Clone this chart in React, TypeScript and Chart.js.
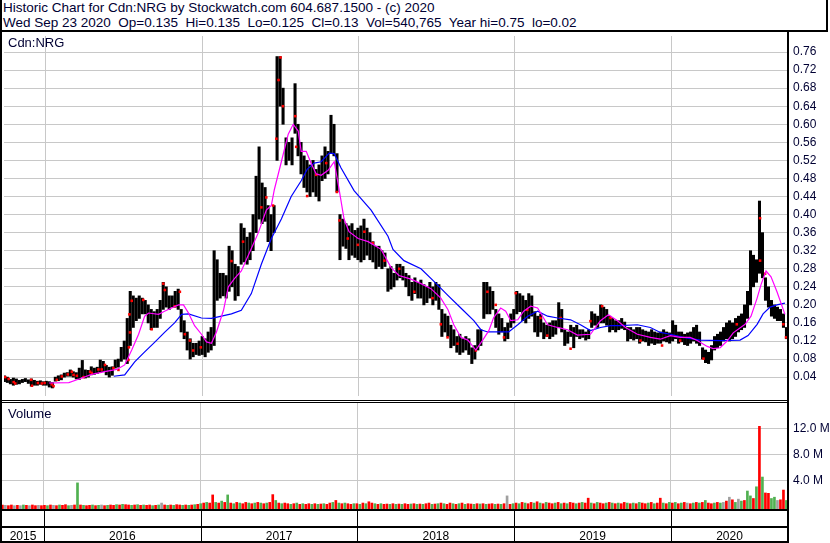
import React, { useEffect, useRef } from 'react';
import { Chart, registerables } from 'chart.js';

Chart.register(...registerables);

// ---------- data ----------
const symbol = 'Cdn:NRG';
const headerLine1 = 'Historic Chart for Cdn:NRG by Stockwatch.com 604.687.1500 - (c) 2020';
const headerLine2 = 'Wed Sep 23 2020  Op=0.135  Hi=0.135  Lo=0.125  Cl=0.13  Vol=540,765  Year hi=0.75  lo=0.02';

// weekly bars: first bar centred late Sep 2015, one bar per week
const firstWeek = 2015.7346;
const weekYears = 7 / 365.25;
const xMin = 2015.7321;
const xMax = 2020.7465;

const yearStarts = [2016, 2017, 2018, 2019, 2020];
const yearLabels = ['2015', '2016', '2017', '2018', '2019', '2020'];
const priceTicks = [0.04, 0.08, 0.12, 0.16, 0.2, 0.24, 0.28, 0.32, 0.36, 0.4, 0.44, 0.48, 0.52, 0.56, 0.6, 0.64, 0.68, 0.72, 0.76];
const volumeTicks = [4, 8, 12];

// weekly [low, high]
const range2015 = [[0.03,0.043],[0.028,0.04],[0.025,0.035],[0.022,0.038],[0.024,0.036],[0.025,0.033],[0.028,0.035],[0.03,0.037],[0.026,0.034],[0.02,0.036],[0.022,0.033],[0.022,0.031],[0.024,0.032],[0.022,0.03]];
const range2016 = [[0.022,0.031],[0.018,0.03],[0.016,0.028],[0.031,0.04],[0.032,0.043],[0.034,0.045],[0.04,0.049],[0.042,0.05],[0.042,0.056],[0.04,0.052],[0.036,0.05],[0.035,0.06],[0.04,0.077],[0.038,0.056],[0.04,0.055],[0.045,0.063],[0.046,0.06],[0.048,0.062],[0.05,0.078],[0.052,0.075],[0.045,0.066],[0.04,0.062],[0.044,0.063],[0.06,0.078],[0.062,0.08],[0.075,0.106],[0.08,0.12],[0.07,0.17],[0.11,0.23],[0.15,0.22],[0.165,0.215],[0.17,0.22],[0.18,0.215],[0.18,0.21],[0.16,0.2],[0.145,0.19],[0.15,0.185],[0.15,0.19],[0.17,0.21],[0.19,0.25],[0.195,0.24],[0.19,0.22],[0.195,0.22],[0.195,0.23],[0.19,0.235],[0.14,0.19],[0.125,0.165],[0.1,0.14],[0.08,0.125],[0.085,0.115],[0.09,0.115],[0.088,0.12]];
const range2017 = [[0.09,0.13],[0.085,0.125],[0.095,0.14],[0.1,0.15],[0.11,0.32],[0.21,0.3],[0.215,0.27],[0.22,0.27],[0.215,0.265],[0.23,0.33],[0.24,0.32],[0.21,0.29],[0.22,0.285],[0.29,0.38],[0.295,0.37],[0.29,0.35],[0.3,0.36],[0.32,0.4],[0.36,0.485],[0.39,0.55],[0.38,0.47],[0.385,0.46],[0.34,0.42],[0.32,0.4],[0.36,0.42],[0.52,0.75],[0.64,0.75],[0.6,0.68],[0.51,0.57],[0.52,0.56],[0.51,0.57],[0.58,0.69],[0.53,0.6],[0.49,0.56],[0.46,0.53],[0.45,0.52],[0.44,0.51],[0.45,0.52],[0.44,0.5],[0.43,0.51],[0.475,0.53],[0.48,0.55],[0.49,0.54],[0.535,0.62],[0.53,0.6],[0.45,0.535],[0.3,0.4],[0.33,0.39],[0.325,0.38],[0.3,0.375],[0.31,0.38],[0.305,0.365],[0.3,0.37]];
const range2018 = [[0.295,0.375],[0.3,0.39],[0.31,0.37],[0.3,0.36],[0.295,0.34],[0.28,0.33],[0.285,0.33],[0.28,0.32],[0.285,0.315],[0.23,0.28],[0.235,0.285],[0.24,0.27],[0.255,0.29],[0.26,0.29],[0.255,0.285],[0.24,0.27],[0.22,0.265],[0.21,0.25],[0.225,0.26],[0.215,0.25],[0.215,0.255],[0.2,0.245],[0.205,0.24],[0.215,0.25],[0.2,0.24],[0.21,0.25],[0.19,0.245],[0.13,0.19],[0.14,0.18],[0.13,0.175],[0.105,0.155],[0.11,0.145],[0.095,0.13],[0.09,0.135],[0.095,0.125],[0.1,0.13],[0.09,0.125],[0.07,0.105],[0.08,0.11],[0.1,0.145],[0.11,0.145],[0.17,0.25],[0.18,0.25],[0.18,0.24],[0.19,0.23],[0.15,0.19],[0.135,0.18],[0.14,0.17],[0.12,0.15],[0.125,0.16],[0.15,0.18],[0.16,0.19]];
const range2019 = [[0.18,0.23],[0.185,0.225],[0.165,0.22],[0.16,0.21],[0.17,0.225],[0.175,0.22],[0.14,0.185],[0.13,0.175],[0.14,0.18],[0.125,0.16],[0.13,0.155],[0.125,0.16],[0.13,0.165],[0.135,0.165],[0.15,0.205],[0.14,0.19],[0.11,0.145],[0.115,0.14],[0.13,0.155],[0.105,0.15],[0.13,0.155],[0.125,0.145],[0.128,0.145],[0.122,0.14],[0.125,0.145],[0.15,0.185],[0.155,0.18],[0.15,0.175],[0.16,0.2],[0.16,0.195],[0.155,0.19],[0.14,0.175],[0.145,0.17],[0.14,0.165],[0.145,0.165],[0.148,0.17],[0.145,0.162],[0.12,0.15],[0.125,0.15],[0.122,0.145],[0.125,0.15],[0.115,0.15],[0.12,0.145],[0.118,0.142],[0.11,0.14],[0.115,0.145],[0.112,0.14],[0.115,0.138],[0.115,0.14],[0.12,0.145],[0.118,0.14],[0.115,0.138]];
const range2020 = [[0.12,0.165],[0.125,0.155],[0.115,0.14],[0.118,0.14],[0.112,0.135],[0.11,0.138],[0.115,0.14],[0.12,0.15],[0.115,0.155],[0.11,0.14],[0.08,0.105],[0.072,0.1],[0.07,0.095],[0.078,0.11],[0.1,0.13],[0.105,0.135],[0.11,0.14],[0.12,0.15],[0.125,0.16],[0.12,0.165],[0.125,0.16],[0.13,0.17],[0.14,0.175],[0.145,0.18],[0.15,0.2],[0.17,0.23],[0.2,0.32],[0.24,0.31],[0.25,0.3],[0.27,0.43],[0.26,0.36],[0.21,0.26],[0.195,0.24],[0.175,0.21],[0.17,0.2],[0.165,0.195],[0.165,0.19],[0.15,0.18],[0.125,0.15]];

// short moving average (magenta) [year, price]
const maShort = [[2016.019,0.027],[2016.147,0.028],[2016.23,0.038],[2016.293,0.046],[2016.376,0.052],[2016.453,0.057],[2016.504,0.067],[2016.549,0.1],[2016.593,0.135],[2016.632,0.175],[2016.657,0.182],[2016.721,0.179],[2016.759,0.186],[2016.804,0.193],[2016.848,0.2],[2016.88,0.2],[2016.912,0.182],[2016.951,0.154],[2016.995,0.135],[2017.027,0.118],[2017.059,0.115],[2017.091,0.14],[2017.136,0.188],[2017.167,0.24],[2017.206,0.258],[2017.25,0.275],[2017.314,0.325],[2017.359,0.36],[2017.41,0.41],[2017.442,0.42],[2017.461,0.455],[2017.506,0.517],[2017.55,0.578],[2017.582,0.6],[2017.614,0.585],[2017.633,0.54],[2017.665,0.54],[2017.697,0.513],[2017.729,0.49],[2017.761,0.487],[2017.805,0.498],[2017.844,0.517],[2017.876,0.455],[2017.907,0.39],[2017.939,0.362],[2017.997,0.347],[2018.061,0.34],[2018.144,0.323],[2018.207,0.283],[2018.258,0.265],[2018.335,0.257],[2018.399,0.247],[2018.463,0.236],[2018.526,0.215],[2018.571,0.19],[2018.609,0.156],[2018.654,0.128],[2018.699,0.122],[2018.75,0.1],[2018.794,0.122],[2018.833,0.143],[2018.864,0.172],[2018.909,0.193],[2018.941,0.186],[2018.973,0.165],[2019.018,0.167],[2019.056,0.186],[2019.101,0.197],[2019.145,0.193],[2019.209,0.156],[2019.273,0.15],[2019.337,0.145],[2019.4,0.133],[2019.483,0.135],[2019.547,0.165],[2019.598,0.178],[2019.656,0.165],[2019.707,0.15],[2019.783,0.135],[2019.866,0.128],[2019.93,0.124],[2019.994,0.132],[2020.057,0.128],[2020.121,0.128],[2020.166,0.121],[2020.23,0.108],[2020.268,0.103],[2020.313,0.105],[2020.357,0.12],[2020.396,0.138],[2020.472,0.157],[2020.51,0.175],[2020.549,0.215],[2020.574,0.245],[2020.606,0.275],[2020.638,0.262],[2020.676,0.229],[2020.727,0.179]];

// long moving average (blue) [year, price]
const maLong = [[2016.434,0.042],[2016.504,0.045],[2016.568,0.074],[2016.632,0.096],[2016.695,0.117],[2016.759,0.139],[2016.823,0.16],[2016.868,0.179],[2016.912,0.18],[2016.995,0.171],[2017.059,0.17],[2017.123,0.175],[2017.187,0.18],[2017.25,0.188],[2017.314,0.225],[2017.378,0.29],[2017.442,0.347],[2017.506,0.39],[2017.569,0.44],[2017.633,0.475],[2017.671,0.5],[2017.716,0.514],[2017.761,0.517],[2017.812,0.536],[2017.844,0.535],[2017.888,0.503],[2017.971,0.453],[2018.08,0.41],[2018.188,0.352],[2018.22,0.323],[2018.29,0.298],[2018.399,0.28],[2018.482,0.252],[2018.571,0.221],[2018.654,0.193],[2018.737,0.165],[2018.782,0.145],[2018.826,0.14],[2018.96,0.14],[2019.018,0.156],[2019.082,0.175],[2019.145,0.186],[2019.209,0.175],[2019.273,0.171],[2019.356,0.167],[2019.419,0.156],[2019.483,0.143],[2019.547,0.15],[2019.611,0.154],[2019.675,0.154],[2019.783,0.156],[2019.866,0.15],[2019.93,0.139],[2019.994,0.135],[2020.077,0.128],[2020.185,0.122],[2020.313,0.121],[2020.44,0.122],[2020.491,0.132],[2020.549,0.157],[2020.587,0.18],[2020.632,0.195],[2020.676,0.2],[2020.727,0.204]];

// red close ticks [year, price]
const closeTicks = [[2015.74,0.04],[2015.762,0.036],[2015.794,0.029],[2015.804,0.026],[2015.906,0.034],[2015.911,0.021],[2015.949,0.027],[2015.974,0.026],[2015.992,0.027],[2016.038,0.024],[2016.049,0.02],[2016.07,0.034],[2016.102,0.0415],[2016.14,0.046],[2016.166,0.052],[2016.177,0.045],[2016.198,0.043],[2016.241,0.04],[2016.283,0.052],[2016.293,0.049],[2016.336,0.057],[2016.357,0.057],[2016.378,0.067],[2016.432,0.06],[2016.464,0.056],[2016.528,0.078],[2016.531,0.106],[2016.538,0.139],[2016.534,0.179],[2016.549,0.209],[2016.623,0.211],[2016.676,0.146],[2016.751,0.247],[2016.761,0.233],[2016.825,0.197],[2016.857,0.229],[2016.889,0.135],[2016.921,0.121],[2016.942,0.099],[2016.991,0.106],[2017.187,0.297],[2017.261,0.34],[2017.378,0.416],[2017.41,0.438],[2017.453,0.42],[2017.474,0.568],[2017.488,0.698],[2017.501,0.748],[2017.516,0.64],[2017.595,0.618],[2017.601,0.55],[2017.671,0.441],[2017.729,0.488],[2017.793,0.514],[2017.861,0.45],[2017.878,0.387],[2017.931,0.347],[2017.995,0.333],[2018.037,0.362],[2018.091,0.337],[2018.165,0.298],[2018.26,0.28],[2018.356,0.229],[2018.473,0.215],[2018.526,0.157],[2018.569,0.128],[2018.633,0.114],[2018.75,0.099],[2018.824,0.229],[2018.877,0.2],[2018.93,0.128],[2019.005,0.226],[2019.079,0.189],[2019.164,0.171],[2019.207,0.132],[2019.292,0.171],[2019.356,0.103],[2019.483,0.164],[2019.558,0.197],[2019.611,0.171],[2019.803,0.121],[2019.941,0.11],[2020.057,0.121],[2020.206,0.081],[2020.419,0.157],[2020.568,0.392],[2020.568,0.298],[2020.6,0.269],[2020.717,0.157],[2020.734,0.128]];

// weekly volume [millions, colour] (r = down, g = up, n = unchanged)
const vol2015 = [[0.2,'r'],[0.15,'n'],[0.1,'r'],[0.2,'r'],[0.1,'n'],[0.15,'r'],[0.1,'n'],[0.2,'g'],[0.15,'r'],[0.1,'n'],[0.2,'r'],[0.1,'r'],[0.15,'n'],[0.1,'r']];
const vol2016 = [[0.15,'r'],[0.1,'g'],[0.2,'r'],[0.15,'n'],[0.1,'r'],[0.2,'g'],[0.15,'r'],[0.25,'r'],[0.1,'g'],[0.15,'n'],[0.2,'r'],[3.6,'g'],[0.2,'r'],[0.15,'g'],[0.1,'r'],[0.15,'r'],[0.2,'g'],[0.1,'r'],[0.15,'g'],[0.2,'n'],[0.1,'r'],[0.15,'g'],[0.2,'r'],[0.15,'r'],[0.25,'g'],[0.2,'r'],[0.3,'g'],[0.25,'r'],[0.2,'r'],[0.15,'g'],[0.2,'r'],[0.25,'g'],[0.15,'r'],[0.2,'g'],[0.15,'r'],[0.2,'r'],[0.1,'g'],[0.15,'r'],[0.2,'g'],[0.5,'n'],[0.2,'r'],[0.15,'g'],[0.2,'r'],[0.15,'g'],[0.25,'r'],[0.2,'r'],[0.15,'g'],[0.2,'r'],[0.15,'g'],[0.2,'r'],[0.25,'g'],[0.3,'r']];
const vol2017 = [[0.4,'g'],[0.5,'r'],[0.6,'g'],[0.5,'r'],[1.75,'r'],[0.6,'g'],[0.5,'r'],[0.8,'g'],[0.6,'r'],[1.75,'g'],[0.5,'r'],[0.4,'g'],[0.6,'r'],[0.5,'g'],[0.4,'r'],[0.6,'r'],[0.5,'g'],[0.4,'r'],[0.5,'g'],[0.6,'r'],[0.5,'g'],[0.4,'r'],[0.5,'g'],[0.6,'r'],[1.8,'r'],[0.9,'g'],[0.5,'r'],[0.4,'g'],[0.5,'r'],[0.4,'r'],[0.3,'g'],[0.4,'r'],[0.5,'g'],[0.3,'r'],[0.4,'g'],[0.3,'r'],[0.4,'r'],[0.3,'g'],[0.4,'r'],[0.3,'g'],[0.35,'r'],[0.4,'g'],[0.3,'r'],[0.5,'r'],[0.6,'g'],[0.9,'r'],[0.5,'g'],[0.4,'r'],[0.5,'g'],[0.4,'r'],[0.3,'r'],[0.4,'g'],[0.4,'r']];
const vol2018 = [[0.3,'g'],[0.5,'r'],[0.4,'g'],[0.7,'r'],[0.5,'r'],[0.4,'g'],[0.3,'r'],[0.4,'g'],[0.3,'r'],[0.35,'r'],[0.3,'g'],[0.4,'r'],[0.3,'g'],[0.35,'r'],[0.3,'g'],[0.4,'r'],[0.3,'r'],[0.35,'g'],[0.4,'r'],[0.3,'g'],[0.35,'r'],[0.3,'g'],[0.4,'r'],[0.5,'r'],[0.3,'g'],[0.35,'r'],[0.4,'g'],[0.5,'r'],[0.4,'g'],[0.3,'r'],[0.5,'r'],[0.4,'g'],[0.3,'r'],[0.4,'g'],[0.5,'r'],[0.3,'g'],[0.4,'r'],[0.35,'r'],[0.3,'g'],[0.4,'r'],[0.35,'g'],[0.4,'r'],[0.3,'g'],[0.35,'r'],[0.4,'r'],[0.3,'g'],[0.35,'r'],[0.3,'g'],[0.4,'r'],[1.6,'n'],[0.3,'r'],[0.4,'g']];
const vol2019 = [[0.5,'r'],[0.4,'g'],[0.6,'r'],[0.5,'g'],[0.4,'r'],[0.6,'r'],[0.5,'g'],[0.7,'r'],[0.5,'g'],[0.4,'r'],[0.6,'g'],[0.5,'r'],[0.4,'r'],[0.5,'g'],[0.6,'r'],[0.4,'g'],[0.5,'r'],[0.4,'g'],[0.6,'r'],[0.5,'r'],[0.4,'g'],[0.5,'r'],[0.6,'g'],[0.5,'r'],[1.25,'r'],[0.5,'g'],[0.4,'r'],[0.6,'g'],[0.5,'r'],[0.4,'r'],[0.5,'g'],[0.6,'r'],[0.5,'g'],[0.4,'r'],[0.5,'g'],[0.4,'r'],[0.6,'r'],[0.5,'g'],[0.4,'r'],[0.5,'g'],[0.4,'r'],[0.6,'g'],[0.5,'r'],[0.4,'r'],[0.5,'g'],[0.6,'r'],[0.4,'g'],[0.5,'r'],[1.25,'r'],[0.5,'g'],[0.4,'r'],[0.6,'g']];
const vol2020 = [[0.5,'r'],[0.6,'g'],[0.4,'r'],[0.5,'g'],[0.6,'r'],[0.5,'n'],[0.4,'r'],[0.5,'g'],[0.6,'r'],[0.5,'g'],[0.6,'r'],[0.9,'g'],[0.5,'r'],[0.4,'r'],[0.5,'g'],[0.6,'r'],[0.5,'g'],[0.6,'n'],[0.8,'r'],[1.4,'n'],[1.0,'r'],[0.6,'g'],[1.1,'n'],[0.8,'g'],[0.9,'r'],[2.35,'g'],[1.6,'g'],[1.2,'r'],[3.0,'g'],[12.3,'r'],[4.5,'g'],[2.05,'r'],[2.0,'r'],[1.2,'g'],[1.4,'g'],[0.9,'n'],[1.0,'r'],[2.5,'r'],[0.9,'g']];

// ---------- style ----------
const FONT = '"Liberation Sans", Arial, sans-serif';
const TEXT = '#000033';
const GRID = '#c8c8c8';
const RED = '#ff0000';
const GREEN = '#50b050';
const GREY = '#a0a0a0';

const priceMin = -0.0018;
const priceMax = 0.7955;
const volMin = -0.415;
const volMax = 15.89;

export default function App() {
  const priceRef = useRef<HTMLCanvasElement>(null);
  const volRef = useRef<HTMLCanvasElement>(null);

  useEffect(() => {
    const ranges = [...range2015, ...range2016, ...range2017, ...range2018, ...range2019, ...range2020];
    const bars = ranges.map((r, i) => ({ x: firstWeek + i * weekYears, y: r }));
    const vols: any[] = [...vol2015, ...vol2016, ...vol2017, ...vol2018, ...vol2019, ...vol2020];
    const volBars = vols.map((v, i) => ({ x: firstWeek + i * weekYears, y: v[0] }));
    const volColors = vols.map((v) => (v[1] === 'g' ? GREEN : v[1] === 'n' ? GREY : RED));
    const bounds = [xMin, ...yearStarts, xMax];
    const labelCentres = yearLabels.map((_, i) => (bounds[i] + bounds[i + 1]) / 2);

    const yearGridTicks = (s: any) => { s.ticks = yearStarts.map((v) => ({ value: v })); };

    const price = new Chart(priceRef.current!, {
      type: 'bar',
      data: {
        datasets: [
          { type: 'line', data: maShort.map(([x, y]) => ({ x, y })), borderColor: '#ff00ff', borderWidth: 1.2, pointRadius: 0, tension: 0, order: 0 } as any,
          { type: 'line', data: maLong.map(([x, y]) => ({ x, y })), borderColor: '#0000ff', borderWidth: 1.2, pointRadius: 0, tension: 0, order: 1 } as any,
          { type: 'line', data: closeTicks.map(([x, y]) => ({ x, y })), showLine: false, pointStyle: 'rect', pointRadius: 1.8, backgroundColor: RED, borderWidth: 0, order: 2 } as any,
          { type: 'bar', data: bars, backgroundColor: '#000000', barThickness: 2.4, order: 3 } as any,
        ],
      },
      options: {
        animation: false,
        responsive: false,
        maintainAspectRatio: false,
        events: [],
        layout: { padding: { left: 2, right: 0, top: 0, bottom: 0 } },
        plugins: { legend: { display: false }, tooltip: { enabled: false } },
        scales: {
          x: {
            type: 'linear', min: xMin, max: xMax, offset: false,
            grid: { color: GRID, drawTicks: false, offset: false },
            border: { display: false },
            ticks: { display: false },
            afterBuildTicks: yearGridTicks,
            afterFit: (s: any) => { s.height = 0; s.paddingLeft = 0; s.paddingRight = 0; },
          },
          y: {
            position: 'right', min: priceMin, max: priceMax,
            grid: { color: GRID, drawTicks: false },
            border: { display: false },
            ticks: { color: TEXT, font: { family: FONT, size: 12 }, padding: 5, callback: (v: any) => Number(v).toFixed(2) },
            afterBuildTicks: (s: any) => { s.ticks = priceTicks.map((v) => ({ value: v })); },
            afterFit: (s: any) => { s.width = 42; s.paddingTop = 0; s.paddingBottom = 0; },
          },
        },
      } as any,
    });

    const stripPlugin = {
      id: 'yearStrip',
      afterDraw(chart: any) {
        const ctx = chart.ctx;
        const sx = chart.scales.xg;
        ctx.save();
        ctx.strokeStyle = '#000000';
        ctx.lineWidth = 1;
        yearStarts.forEach((v) => {
          const px = Math.round(sx.getPixelForValue(v)) + 0.5;
          ctx.beginPath();
          ctx.moveTo(px, chart.chartArea.bottom);
          ctx.lineTo(px, chart.height);
          ctx.stroke();
        });
        ctx.restore();
      },
    };

    const volume = new Chart(volRef.current!, {
      type: 'bar',
      data: {
        datasets: [
          { data: volBars, backgroundColor: volColors, barThickness: 2, base: volMin, xAxisID: 'x', yAxisID: 'y' } as any,
        ],
      },
      options: {
        animation: false,
        responsive: false,
        maintainAspectRatio: false,
        events: [],
        layout: { padding: { left: 2, right: 0, top: 1, bottom: 0 } },
        plugins: { legend: { display: false }, tooltip: { enabled: false } },
        scales: {
          xg: {
            type: 'linear', position: 'bottom', min: xMin, max: xMax, offset: false,
            grid: { color: GRID, drawTicks: false, offset: false },
            border: { display: false },
            ticks: { display: false },
            afterBuildTicks: yearGridTicks,
            afterFit: (s: any) => { s.height = 0; s.paddingLeft = 0; s.paddingRight = 0; },
          },
          x: {
            type: 'linear', position: 'bottom', min: xMin, max: xMax, offset: false,
            grid: { display: false, drawTicks: false },
            border: { display: false },
            ticks: {
              color: '#000000', font: { family: FONT, size: 12 }, padding: 20, autoSkip: false, maxRotation: 0,
              callback: (_v: any, i: number) => yearLabels[i],
            },
            afterBuildTicks: (s: any) => { s.ticks = labelCentres.map((v) => ({ value: v })); },
            afterFit: (s: any) => { s.height = 34; s.paddingLeft = 0; s.paddingRight = 0; },
          },
          y: {
            position: 'right', min: volMin, max: volMax,
            grid: { color: GRID, drawTicks: false },
            border: { display: false },
            ticks: { color: TEXT, font: { family: FONT, size: 12 }, padding: 5, callback: (v: any) => Number(v).toFixed(1) + ' M' },
            afterBuildTicks: (s: any) => { s.ticks = volumeTicks.map((v) => ({ value: v })); },
            afterFit: (s: any) => { s.width = 42; s.paddingTop = 0; s.paddingBottom = 0; },
          },
        },
      } as any,
      plugins: [stripPlugin],
    });

    return () => { price.destroy(); volume.destroy(); };
  }, []);

  const abs = (left: number, top: number, width: number, height: number, bg = '#000'): React.CSSProperties => ({
    position: 'absolute', left, top, width, height, background: bg,
  });
  const txt: React.CSSProperties = { position: 'absolute', fontFamily: FONT, fontSize: 13, lineHeight: '15px', color: TEXT, whiteSpace: 'pre' };
  const head: React.CSSProperties = { ...txt, fontSize: 13.5 };

  return (
    <div style={{ position: 'fixed', left: 0, top: 0, width: 830, height: 543, background: '#ffffff', overflow: 'hidden' }}>
      <div style={{ ...head, left: 3, top: 0 }}>{headerLine1}</div>
      <div style={{ ...head, left: 3, top: 15 }}>{headerLine2}</div>
      <canvas ref={priceRef} width={830} height={368} style={{ position: 'absolute', left: 0, top: 32, width: 830, height: 368 }} />
      <canvas ref={volRef} width={830} height={141} style={{ position: 'absolute', left: 0, top: 402, width: 830, height: 141 }} />
      <div style={{ ...txt, left: 8, top: 35 }}>{symbol}</div>
      <div style={{ ...txt, left: 8, top: 406 }}>Volume</div>
      <div style={abs(0, 30, 828, 2)} />
      <div style={abs(826, 0, 2, 32)} />
      <div style={abs(0, 0, 2, 543)} />
      <div style={abs(787, 32, 2, 511)} />
      <div style={abs(0, 400, 788, 1)} />
      <div style={abs(0, 402, 788, 1)} />
      <div style={abs(0, 509, 788, 2)} />
      <div style={abs(0, 526, 788, 2)} />
      <div style={abs(0, 541, 788, 2)} />
    </div>
  );
}
